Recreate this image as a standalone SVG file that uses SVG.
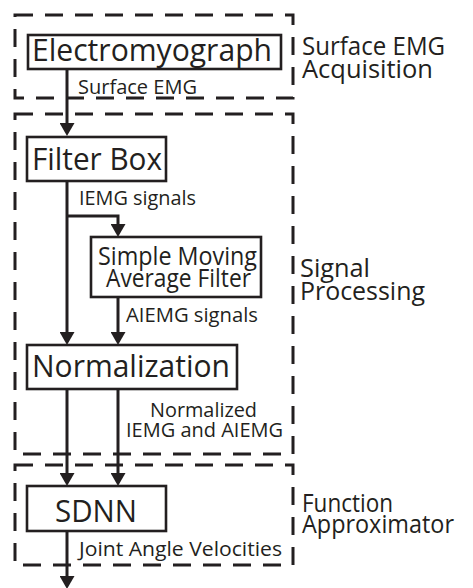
<svg xmlns="http://www.w3.org/2000/svg" width="473" height="588" viewBox="0 0 473 588">
<style>
.bg{fill:#fff}
.grp{fill:none;stroke:#231f20;stroke-width:3;stroke-dasharray:18 12}
.box{fill:#fff;stroke:#231f20;stroke-width:2.6}
.con{fill:none;stroke:#231f20;stroke-width:3}
text{font-family:"Open Sans","Noto Sans","Liberation Sans",sans-serif;fill:#231f20}
.big{font-size:31px}
.mid{font-size:25px}
.lab{font-size:25.5px}
.sm{font-size:19.5px}
</style>
<defs>
<marker id="ah" viewBox="0 0 13 15" refX="5" refY="7.5" markerWidth="13" markerHeight="15" markerUnits="userSpaceOnUse" orient="auto">
<path d="M0,0 L13,7.5 L0,15 z" fill="#231f20"/>
</marker>
</defs>
<rect class="bg" x="0" y="0" width="473" height="588"/>

<g id="group-acquisition">
<rect class="grp" x="15" y="15" width="278" height="83"/>
<text class="lab" x="302" y="55" textLength="143" lengthAdjust="spacingAndGlyphs">Surface EMG</text>
<text class="lab" x="302" y="78" textLength="131" lengthAdjust="spacingAndGlyphs">Acquisition</text>
</g>
<g id="group-processing">
<rect class="grp" x="15" y="114" width="278" height="340"/>
<text class="lab" x="300" y="277" textLength="70" lengthAdjust="spacingAndGlyphs">Signal</text>
<text class="lab" x="300" y="300" textLength="125" lengthAdjust="spacingAndGlyphs">Processing</text>
</g>
<g id="group-approximator">
<rect class="grp" x="15" y="465" width="278" height="100"/>
<text class="lab" x="302" y="512" textLength="91" lengthAdjust="spacingAndGlyphs">Function</text>
<text class="lab" x="302" y="533" textLength="152" lengthAdjust="spacingAndGlyphs">Approximator</text>
</g>

<g id="connectors">
<path class="con" d="M67,69 V128" marker-end="url(#ah)"/>
<path class="con" d="M67,181 V337" marker-end="url(#ah)"/>
<path class="con" d="M67,216 H118 V229" marker-end="url(#ah)"/>
<path class="con" d="M118,297 V337" marker-end="url(#ah)"/>
<path class="con" d="M67,389 V478" marker-end="url(#ah)"/>
<path class="con" d="M118,389 V478" marker-end="url(#ah)"/>
<path class="con" d="M67,531 V581" marker-end="url(#ah)"/>
<text class="sm" x="78" y="94" textLength="119" lengthAdjust="spacingAndGlyphs">Surface EMG</text>
<text class="sm" x="79" y="205" textLength="117" lengthAdjust="spacingAndGlyphs">IEMG signals</text>
<text class="sm" x="126" y="322" textLength="132" lengthAdjust="spacingAndGlyphs">AIEMG signals</text>
<text class="sm" x="150" y="417" textLength="107" lengthAdjust="spacingAndGlyphs">Normalized</text>
<text class="sm" x="126" y="437" textLength="157" lengthAdjust="spacingAndGlyphs">IEMG and AIEMG</text>
<text class="sm" x="79" y="556" textLength="203" lengthAdjust="spacingAndGlyphs">Joint Angle Velocities</text>
</g>

<g id="node-electromyograph">
<rect class="box" x="28" y="35" width="253" height="34"/>
<text class="big" x="32" y="61" textLength="240" lengthAdjust="spacingAndGlyphs">Electromyograph</text>
</g>
<g id="node-filterbox">
<rect class="box" x="27" y="137" width="139" height="44"/>
<text class="big" x="32" y="170" textLength="130" lengthAdjust="spacingAndGlyphs">Filter Box</text>
</g>
<g id="node-sma">
<rect class="box" x="91" y="237" width="170" height="60"/>
<text class="mid" x="98" y="265" textLength="159" lengthAdjust="spacingAndGlyphs">Simple Moving</text>
<text class="mid" x="106" y="287" textLength="145" lengthAdjust="spacingAndGlyphs">Average Filter</text>
</g>
<g id="node-normalization">
<rect class="box" x="27" y="345" width="210" height="44"/>
<text class="big" x="32" y="377" textLength="198" lengthAdjust="spacingAndGlyphs">Normalization</text>
</g>
<g id="node-sdnn">
<rect class="box" x="27" y="486" width="139" height="45"/>
<text class="big" x="55" y="522" textLength="82" lengthAdjust="spacingAndGlyphs">SDNN</text>
</g>
</svg>
